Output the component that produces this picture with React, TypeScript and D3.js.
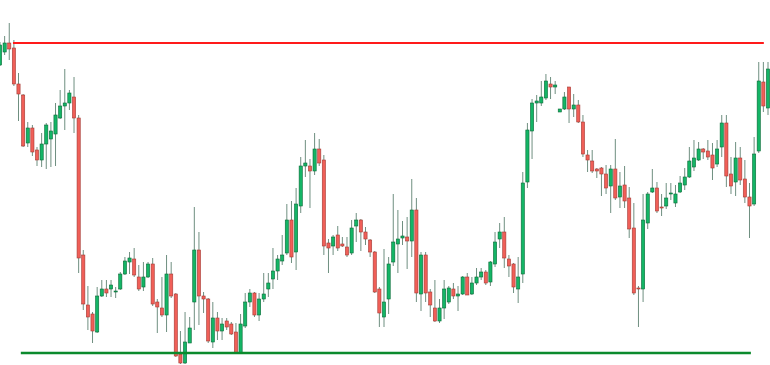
import React from "react";
import * as d3 from "d3";

const opens = [300,313,322,317,281,270,222,237,215,205,221,226,231,247,259,262,268,247,110,60,51,33,69,76,76,73,76,91,103,106,88,78,88,101,63,57,50,91,71,11,2,22,63,115,69,66,23,47,34,44,41,33,12,39,63,72,50,66,76,86,94,104,112,145,113,159,199,199,194,216,205,122,119,130,121,118,112,139,145,133,125,113,76,48,66,103,121,127,128,124,155,71,110,73,57,44,57,63,76,69,71,88,71,82,88,93,83,101,126,133,106,101,76,91,183,234,262,262,267,281,278,253,256,278,256,260,243,210,204,196,197,191,179,196,168,180,167,137,77,76,142,173,177,158,159,171,162,173,180,188,198,205,216,214,210,201,218,242,191,183,207,186,168,161,214,283,257];
const highs = [323,329,342,325,292,271,243,240,218,232,242,243,262,275,296,275,288,250,115,79,53,78,85,85,85,78,93,108,113,117,100,103,103,107,66,88,110,103,72,34,53,48,158,133,73,67,63,53,47,47,43,42,51,72,76,73,72,92,92,117,110,130,161,164,177,208,225,206,232,226,210,126,130,139,128,128,145,152,146,138,126,114,78,116,108,171,155,144,148,186,167,113,113,76,85,66,85,79,82,79,89,92,88,97,97,95,104,133,142,148,110,102,108,193,242,266,270,284,291,288,284,256,273,278,271,265,250,215,215,197,198,200,200,226,193,199,178,162,79,171,173,196,183,171,182,182,180,189,197,218,225,223,217,225,222,225,250,250,208,223,218,205,182,228,303,303,303];
const lows = [299,310,305,279,244,218,218,209,199,198,196,198,199,246,235,255,232,92,55,35,22,32,68,68,68,67,75,90,91,88,74,74,87,59,32,48,33,67,8,1,1,22,35,40,52,22,17,25,25,35,30,12,12,37,58,48,44,63,68,76,85,100,110,102,95,152,188,157,190,199,110,92,110,114,118,108,110,123,114,120,108,72,38,38,51,99,92,120,96,108,63,54,63,48,43,42,46,61,66,54,70,70,70,80,85,80,79,98,117,97,88,72,62,82,177,206,243,259,265,266,271,253,255,242,248,242,208,193,192,187,169,171,152,165,157,157,127,70,38,63,136,172,152,149,156,165,158,172,175,187,194,204,206,205,185,198,208,178,171,169,180,162,127,159,212,253,250];
const closes = [320,322,316,281,271,219,237,213,205,221,240,234,250,259,262,272,247,107,61,48,34,69,76,72,80,74,91,104,107,90,76,88,101,61,58,50,91,69,9,2,23,37,115,69,66,24,47,34,41,38,31,12,41,63,72,50,66,71,82,94,106,110,145,108,161,199,202,194,216,202,119,117,128,117,119,110,137,145,133,126,113,73,52,63,101,123,126,129,124,155,72,110,72,60,44,57,76,77,69,71,88,70,82,88,93,82,103,123,133,107,99,78,88,182,235,262,264,268,284,278,280,256,268,256,260,243,211,205,194,194,191,177,196,167,179,164,136,72,76,145,171,177,154,157,167,172,171,182,188,204,207,216,213,208,197,216,242,189,179,207,185,168,159,211,284,259,296];

const resistanceLevel = 322;
const resistanceSpan = [2.8, 165.1];
const supportLevel = 12;
const supportSpan = [4.5, 162.3];

const W = 770;
const H = 365;

export default function App() {
  const n = opens.length;
  const x = d3.scaleLinear().domain([0, n - 1]).range([0, 768]);
  const y = d3.scaleLinear().domain([0, 365]).range([H, 0]);
  const bw = 3.2;
  return (
    <svg
      width={W}
      height={H}
      style={{ position: "fixed", left: 0, top: 0, background: "#fff" }}
    >
      {opens.map((o, i) => {
        const c = closes[i];
        const up = c >= o;
        const cx = x(i);
        const top = y(Math.max(o, c));
        const bot = y(Math.min(o, c));
        return (
          <g key={i}>
            <line
              x1={cx}
              x2={cx}
              y1={y(highs[i])}
              y2={y(lows[i])}
              stroke="#6f8f80"
              strokeWidth={1}
            />
            <rect
              x={cx - bw / 2}
              y={top}
              width={bw}
              height={Math.max(bot - top, 1)}
              fill={up ? "#14b566" : "#f05f58"}
              stroke={up ? "#0b6a37" : "#a33a34"}
              strokeWidth={0.6}
            />
          </g>
        );
      })}
      <line
        x1={x(resistanceSpan[0])}
        x2={x(resistanceSpan[1])}
        y1={y(resistanceLevel)}
        y2={y(resistanceLevel)}
        stroke="#ff1a1a"
        strokeWidth={2}
      />
      <line
        x1={x(supportSpan[0])}
        x2={x(supportSpan[1])}
        y1={y(supportLevel)}
        y2={y(supportLevel)}
        stroke="#0b8a2c"
        strokeWidth={2.5}
      />
    </svg>
  );
}
